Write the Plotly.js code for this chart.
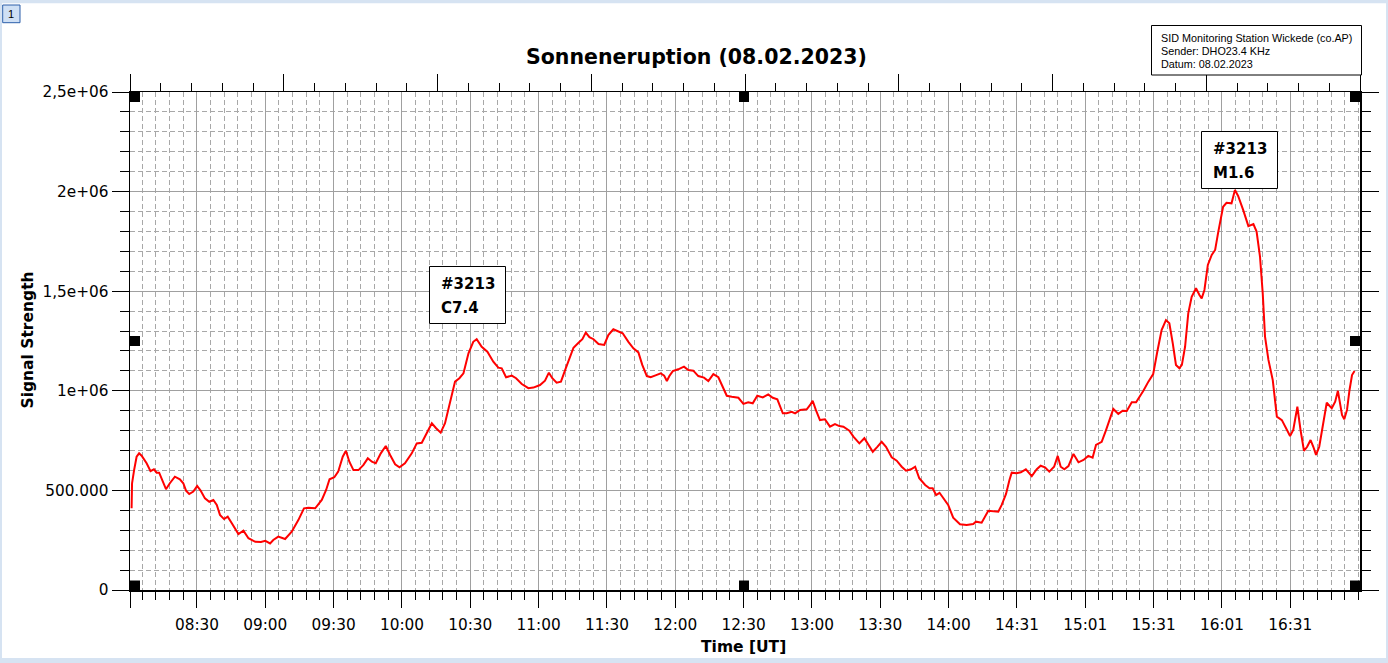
<!DOCTYPE html>
<html>
<head>
<meta charset="utf-8">
<script src="https://cdn.plot.ly/plotly-3.0.1.min.js"></script>
<style>html,body{margin:0;padding:0;background:#fff;}#chart{width:1388px;height:663px;}</style>
</head>
<body>
<div id="chart"></div>
<script>
// Minutes after 08:00 UT
const minutesSince0800 = [1.3,1.5,2.4,3.5,4.6,5.7,7.9,9.6,11.1,12.3,13.4,14.9,16.4,18.1,20.3,22.5,24.0,25.2,26.6,28.4,30.1,31.6,33.5,35.4,37.2,38.7,40.1,41.9,43.5,45.3,48.2,50.4,52.6,55.6,58.1,60.0,
62.1,63.5,65.7,68.7,71.6,74.5,77.0,78.9,81.9,84.8,86.7,88.2,90.3,
92.0,94.0,95.4,96.9,98.7,100.9,103.1,105.0,106.8,108.5,110.7,112.9,114.8,117.0,118.9,
121.3,124.3,126.5,128.7,130.9,133.1,135.0,137.0,138.9,141.1,143.3,145.2,147.0,149.2,
151.3,152.8,155.0,157.5,160.1,162.3,163.8,165.7,168.2,170.1,172.6,175.5,177.7,
180.6,182.8,184.5,186.0,187.9,189.8,191.9,193.8,195.3,197.5,199.2,200.7,202.3,204.1,206.3,208.8,
210.6,212.8,215.0,216.9,219.4,221.6,223.8,225.5,227.5,229.2,231.6,233.6,235.1,236.3,237.4,238.9,
241.3,243.8,245.7,247.9,250.1,252.6,254.5,256.7,258.9,260.9,262.6,264.8,267.7,269.9,
272.0,274.0,276.0,278.4,280.8,282.8,284.8,287.2,288.9,291.1,292.6,294.8,297.7,299.2,
300.3,301.7,303.5,305.7,307.9,310.1,312.0,313.8,316.4,318.2,320.8,323.0,324.8,326.7,328.5,
330.6,332.5,335.0,337.2,339.4,341.3,343.5,345.3,347.1,349.7,351.6,353.0,354.5,356.0,357.7,
359.8,362.0,365.0,367.9,370.8,372.0,374.5,377.4,380.0,381.8,383.3,385.2,386.7,387.7,
389.8,391.7,393.9,396.5,398.7,400.4,402.3,404.2,406.3,407.9,409.2,410.8,412.6,414.8,417.0,419.2,
421.3,423.2,424.7,427.2,429.1,430.5,432.3,434.5,436.4,438.2,440.4,442.3,444.1,445.5,447.7,
449.8,451.6,453.5,455.4,456.9,458.4,459.8,461.3,462.4,463.8,465.2,466.7,468.6,470.1,471.1,472.3,473.8,475.5,477.0,478.4,
480.5,482.0,484.2,485.7,487.1,489.3,491.6,493.8,495.2,496.7,497.9,498.9,500.4,502.3,504.1,506.3,508.2,
509.9,511.3,513.1,514.5,516.0,517.4,518.9,520.1,521.3,522.7,524.5,526.0,528.2,529.7,530.9,531.6,532.7,533.7,534.9,536.0,537.1,538.2];

const signalStrength = [410e3,536e3,602e3,669e3,686e3,674e3,636e3,597e3,606e3,589e3,589e3,544e3,506e3,536e3,569e3,556e3,536e3,499e3,482e3,494e3,522e3,499e3,460e3,443e3,452e3,427e3,377e3,356e3,368e3,335e3,281e3,298e3,260e3,242e3,241e3,247e3,
234e3,251e3,268e3,256e3,293e3,351e3,410e3,413e3,410e3,452e3,502e3,556e3,566e3,
594e3,669e3,699e3,644e3,602e3,602e3,628e3,661e3,644e3,636e3,686e3,723e3,678e3,631e3,616e3,
636e3,686e3,736e3,739e3,787e3,837e3,812e3,790e3,837e3,937e3,1046e3,1063e3,1088e3,1188e3,
1246e3,1259e3,1221e3,1196e3,1146e3,1116e3,1113e3,1068e3,1076e3,1063e3,1034e3,1013e3,1016e3,
1029e3,1051e3,1091e3,1063e3,1041e3,1046e3,1113e3,1175e3,1216e3,1241e3,1259e3,1292e3,1269e3,1259e3,1235e3,1230e3,
1280e3,1309e3,1300e3,1289e3,1246e3,1213e3,1193e3,1130e3,1074e3,1068e3,1079e3,1088e3,1076e3,1049e3,1074e3,1099e3,
1108e3,1121e3,1104e3,1101e3,1074e3,1066e3,1049e3,1084e3,1068e3,1021e3,975e3,970e3,965e3,934e3,
942e3,937e3,975e3,967e3,982e3,965e3,957e3,887e3,887e3,895e3,887e3,904e3,907e3,929e3,
950e3,904e3,853e3,857e3,820e3,833e3,823e3,820e3,800e3,770e3,736e3,762e3,728e3,694e3,716e3,
744e3,719e3,666e3,649e3,619e3,599e3,606e3,619e3,561e3,527e3,511e3,511e3,477e3,488e3,460e3,
427e3,363e3,330e3,326e3,331e3,343e3,338e3,398e3,397e3,393e3,427e3,482e3,552e3,589e3,
586e3,591e3,606e3,572e3,606e3,624e3,616e3,594e3,619e3,673e3,619e3,606e3,622e3,683e3,641e3,653e3,
673e3,664e3,728e3,744e3,803e3,853e3,909e3,884e3,900e3,899e3,942e3,942e3,974e3,1000e3,1046e3,
1084e3,1196e3,1305e3,1355e3,1339e3,1238e3,1130e3,1113e3,1130e3,1221e3,1389e3,1472e3,1515e3,1481e3,1464e3,1506e3,1632e3,1682e3,1707e3,1799e3,
1924e3,1944e3,1941e3,2008e3,1978e3,1908e3,1827e3,1837e3,1799e3,1673e3,1489e3,1272e3,1155e3,1054e3,870e3,853e3,812e3,
773e3,803e3,920e3,803e3,699e3,719e3,753e3,719e3,678e3,719e3,853e3,940e3,912e3,945e3,1000e3,954e3,879e3,857e3,904e3,1004e3,1079e3,1099e3];

const xTickVals = [0.6,30,60,90,120,150,180,210,240,270,300,330,360,390,420,450,480,510];
const xTickLabels = ["","08:30","09:00","09:30","10:00","10:30","11:00","11:30","12:00","12:30","13:00","13:30","14:00","14:31","15:01","15:31","16:01","16:31"];
const yTickVals = [0,500000,1000000,1500000,2000000,2500000];
const yTickLabels = ["0","500.000","1e+06","1,5e+06","2e+06","2,5e+06"];

const chartTitle = "Sonneneruption (08.02.2023)";
const infoLines = ["SID Monitoring Station Wickede (co.AP)","Sender: DHO23.4 KHz","Datum: 08.02.2023"];
const flareLabels = [["#3213","C7.4"],["#3213","M1.6"]];

// layout helpers: figure pixel -> paper fraction
const L=130, R=1360, T=92, B=590;
const PX = x => (x-L)/(R-L);
const PY = y => (B-y)/(B-T);

const tickFont = {family:"DejaVu Sans", size:15.3, color:"#000"};
const boldFont = s => ({family:"DejaVu Sans", size:s, color:"#000"});
const gridMajor = "#a0a0a0", gridMinor = "#a8a8a8", dashPat = "5px,3px";

const trace = {
  x: minutesSince0800, y: signalStrength, type:"scatter", mode:"lines",
  line:{color:"#ff0000", width:2}, hoverinfo:"skip", showlegend:false
};
const topTrace = {x:[], y:[], xaxis:"x2", yaxis:"y", type:"scatter", mode:"lines", showlegend:false, hoverinfo:"skip"};

function rect(x0,y0,x1,y1,fill,line,lw){
  return {type:"rect", xref:"paper", yref:"paper", x0:PX(x0), x1:PX(x1), y0:PY(y1), y1:PY(y0),
    fillcolor:fill, line:{color:line||fill, width:(lw===undefined?0:lw)}, layer:"above"};
}
const frameCol = "#d6e3f2";
const shapes = [
  rect(0,0,1388,3.3,frameCol), rect(0,658,1388,663,frameCol),
  rect(0,0,2,663,frameCol), rect(1386,0,1388,663,frameCol),
  rect(2.7,5,20,22.7,"#cfe0f5","#2c5faa",1),
  rect(1151.5,25.5,1361.5,75,"#ffffff","#000000",1),
  rect(429.5,266.5,505.5,323.5,"#ffffff","#000000",1),
  rect(1201.5,131.5,1277.5,188.5,"#ffffff","#000000",1)
];
// selection handles
[[130,92],[739,92],[1350,92],[130,336],[1350,336],[130,580.5],[739,580.5],[1350,580.5]].forEach(p=>{
  shapes.push(rect(p[0],p[1],p[0]+10,p[1]+10,"#000000"));
});

function txt(text,x,y,font,extra){
  return Object.assign({text:text, x:PX(x), y:PY(y), xref:"paper", yref:"paper", showarrow:false,
    xanchor:"center", yanchor:"middle", font:font, borderpad:0, borderwidth:0}, extra||{});
}
const infoFont = {family:"Liberation Sans", size:10.8, color:"#000"};
const annotations = [
  txt("<b>"+chartTitle+"</b>",696,56.5,boldFont(20.5)),
  txt("<b>Signal Strength</b>",27.5,340,boldFont(15.5),{textangle:-90}),
  txt("<b>Time [UT]</b>",743,647,boldFont(15.5)),
  txt("1",11.4,14,{family:"Liberation Sans",size:11,color:"#000"}),
  txt(infoLines[0],1161,37.7,infoFont,{xanchor:"left"}),
  txt(infoLines[1],1161,50.7,infoFont,{xanchor:"left"}),
  txt(infoLines[2],1161,63.7,infoFont,{xanchor:"left"}),
  txt("<b>"+flareLabels[0][0]+"</b>",440.5,284,boldFont(15),{xanchor:"left"}),
  txt("<b>"+flareLabels[0][1]+"</b>",440.5,307.5,boldFont(15),{xanchor:"left"}),
  txt("<b>"+flareLabels[1][0]+"</b>",1212.5,149.2,boldFont(15),{xanchor:"left"}),
  txt("<b>"+flareLabels[1][1]+"</b>",1212.5,172.5,boldFont(15),{xanchor:"left"})
];

const layout = {
  width:1388, height:663, autosize:false,
  margin:{l:L, r:1388-R, t:T, b:663-B, pad:0},
  paper_bgcolor:"#ffffff", plot_bgcolor:"#ffffff",
  showlegend:false,
  xaxis:{
    range:[0.6,540.6], tickmode:"array", tickvals:xTickVals, ticktext:xTickLabels,
    ticks:"outside", ticklen:16, tickwidth:1, tickcolor:"#000", ticklabelstandoff:4,
    showline:true, linecolor:"#000", linewidth:1.5, mirror:true,
    showgrid:true, gridcolor:gridMajor, gridwidth:1, zeroline:false,
    tickfont:tickFont, fixedrange:true,
    minor:{tickmode:"linear", tick0:0, dtick:6, ticks:"outside", ticklen:8, tickwidth:1, tickcolor:"#000",
      showgrid:true, gridcolor:gridMinor, gridwidth:1, griddash:dashPat}
  },
  xaxis2:{
    overlaying:"x", side:"top", anchor:"y", range:[0,40],
    tickmode:"linear", tick0:0, dtick:5, ticks:"outside", ticklen:17, tickwidth:1, tickcolor:"#000",
    showticklabels:false, showgrid:false, zeroline:false, showline:false, fixedrange:true,
    minor:{tickmode:"linear", tick0:0, dtick:1, ticks:"outside", ticklen:8, tickwidth:1, tickcolor:"#000", showgrid:false}
  },
  yaxis:{
    range:[0,2500000], tickmode:"array", tickvals:yTickVals, ticktext:yTickLabels,
    ticks:"outside", ticklen:17, tickwidth:1, tickcolor:"#000",
    showline:true, linecolor:"#000", linewidth:1.5, mirror:"ticks",
    showgrid:true, gridcolor:gridMajor, gridwidth:1, zeroline:false,
    tickfont:tickFont, fixedrange:true,
    minor:{tickmode:"linear", tick0:0, dtick:100000, ticks:"outside", ticklen:9, tickwidth:1, tickcolor:"#000",
      showgrid:true, gridcolor:gridMinor, gridwidth:1, griddash:dashPat}
  },
  shapes:shapes,
  annotations:annotations
};

Plotly.newPlot("chart",[trace, topTrace],layout,{staticPlot:true, displayModeBar:false});
</script>
</body>
</html>
